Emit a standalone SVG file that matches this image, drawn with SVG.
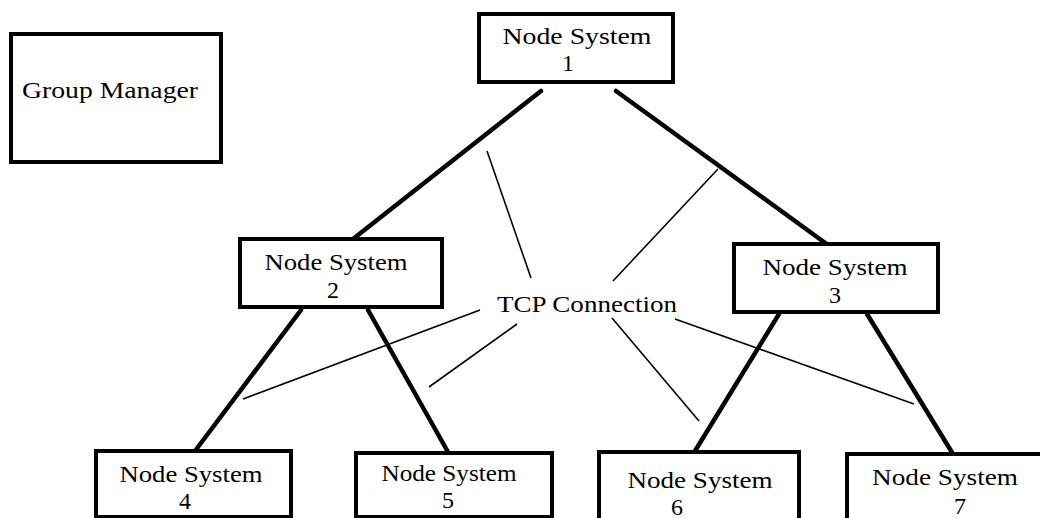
<svg xmlns="http://www.w3.org/2000/svg" width="1040" height="518" viewBox="0 0 1040 518">
<style>
  .box { fill: #fff; stroke: #000; stroke-width: 4; }
  .t { font-family: "Liberation Serif", "Times New Roman", serif; font-size: 24px; fill: #000; text-anchor: middle; }
  .thick { stroke: #000; stroke-width: 4.5; stroke-linecap: round; fill: none; }
  .thin { stroke: #000; stroke-width: 1.6; fill: none; }
</style>
<rect width="1040" height="518" fill="#fff"/>
<g id="connectors">
  <line class="thick" x1="541" y1="91" x2="353" y2="239"/>
  <line class="thick" x1="616" y1="91" x2="828" y2="245"/>
  <line class="thick" x1="301" y1="310" x2="195" y2="451"/>
  <line class="thick" x1="368" y1="310" x2="448" y2="452"/>
  <line class="thick" x1="779" y1="314" x2="695" y2="451"/>
  <line class="thick" x1="867" y1="314" x2="953" y2="454"/>
  <line class="thin" x1="487" y1="151" x2="531" y2="278"/>
  <line class="thin" x1="718" y1="169" x2="613" y2="281"/>
  <line class="thin" x1="480" y1="310" x2="243" y2="399"/>
  <line class="thin" x1="517" y1="324" x2="429" y2="387"/>
  <line class="thin" x1="612" y1="318" x2="699" y2="421"/>
  <line class="thin" x1="675" y1="319" x2="914" y2="404"/>
</g>
<g id="group-manager">
  <rect class="box" x="11" y="34" width="210" height="128"/>
  <text class="t" x="110" y="98" textLength="176" lengthAdjust="spacingAndGlyphs">Group Manager</text>
</g>
<g id="node1">
  <rect class="box" x="479" y="14" width="194" height="68"/>
  <text class="t" x="577" y="44" textLength="149" lengthAdjust="spacingAndGlyphs">Node System</text>
  <text class="t" x="568" y="71">1</text>
</g>
<g id="node2">
  <rect class="box" x="240" y="239" width="202" height="68"/>
  <text class="t" x="336" y="270" textLength="143" lengthAdjust="spacingAndGlyphs">Node System</text>
  <text class="t" x="333" y="298">2</text>
</g>
<g id="node3">
  <rect class="box" x="734" y="244" width="204" height="68"/>
  <text class="t" x="835" y="275" textLength="145" lengthAdjust="spacingAndGlyphs">Node System</text>
  <text class="t" x="835" y="303">3</text>
</g>
<g id="node4">
  <rect class="box" x="96" y="451" width="195" height="66"/>
  <text class="t" x="191" y="482" textLength="143" lengthAdjust="spacingAndGlyphs">Node System</text>
  <text class="t" x="185" y="509">4</text>
</g>
<g id="node5">
  <rect class="box" x="356" y="453" width="196" height="64"/>
  <text class="t" x="449" y="481" textLength="135" lengthAdjust="spacingAndGlyphs">Node System</text>
  <text class="t" x="448" y="508">5</text>
</g>
<g id="node6">
  <rect class="box" x="599" y="452" width="200" height="80"/>
  <text class="t" x="700" y="488" textLength="145" lengthAdjust="spacingAndGlyphs">Node System</text>
  <text class="t" x="677" y="515">6</text>
</g>
<g id="node7">
  <rect class="box" x="847" y="454" width="200" height="80"/>
  <text class="t" x="945" y="485" textLength="146" lengthAdjust="spacingAndGlyphs">Node System</text>
  <text class="t" x="960" y="514">7</text>
</g>
<g id="tcp-label">
  <text class="t" x="587" y="312" textLength="180" lengthAdjust="spacingAndGlyphs">TCP Connection</text>
</g>
</svg>
